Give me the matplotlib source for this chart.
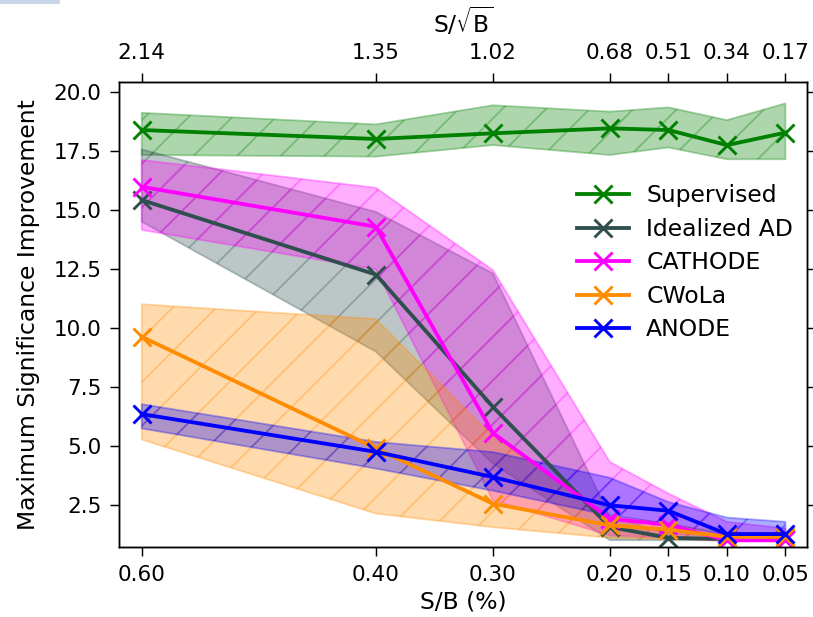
import matplotlib
matplotlib.use("Agg")
import matplotlib.pyplot as plt
from matplotlib.patches import Rectangle

# signal fraction scan
sb = [0.60, 0.40, 0.30, 0.20, 0.15, 0.10, 0.05]
s_sqrt_b = ["2.14", "1.35", "1.02", "0.68", "0.51", "0.34", "0.17"]

sup_mean = [18.40, 18.02, 18.26, 18.47, 18.40, 17.76, 18.29]
sup_hi = [19.13, 18.64, 19.45, 19.18, 19.36, 18.82, 19.53]
sup_lo = [17.34, 17.27, 17.76, 17.34, 17.66, 17.16, 17.16]

ideal_mean = [15.43, 12.27, 6.66, 1.56, 1.10, 1.05, 1.05]
ideal_hi = [17.58, 14.93, 12.32, 2.00, 1.30, 1.20, 1.20]
ideal_lo = [14.51, 9.00, 4.25, 1.00, 1.00, 1.00, 1.00]

cath_mean = [15.99, 14.30, 5.55, 1.91, 1.65, 1.00, 1.00]
cath_hi = [17.13, 15.95, 12.46, 4.32, 2.98, 1.78, 1.50]
cath_lo = [14.16, 12.49, 2.70, 1.20, 1.10, 0.95, 0.95]

cwola_mean = [9.63, 4.90, 2.55, 1.63, 1.45, 1.14, 1.14]
cwola_hi = [11.01, 10.38, 5.40, 2.00, 1.70, 1.30, 1.30]
cwola_lo = [5.27, 2.13, 1.55, 1.10, 1.05, 1.00, 1.00]

anode_mean = [6.35, 4.75, 3.68, 2.48, 2.25, 1.26, 1.26]
anode_hi = [6.77, 5.17, 4.74, 3.65, 2.62, 1.96, 1.78]
anode_lo = [5.74, 4.04, 3.10, 2.05, 1.70, 1.20, 1.20]

methods = [
    ("Supervised", "green", sup_mean, sup_lo, sup_hi),
    ("Idealized AD", "darkslategray", ideal_mean, ideal_lo, ideal_hi),
    ("CATHODE", "magenta", cath_mean, cath_lo, cath_hi),
    ("CWoLa", "darkorange", cwola_mean, cwola_lo, cwola_hi),
    ("ANODE", "blue", anode_mean, anode_lo, anode_hi),
]

dpi = 131
fig = plt.figure(figsize=(813 / dpi, 617 / dpi), dpi=dpi)
ax = fig.add_axes([0.1464, 0.1130, 0.8462, 0.7546])

for name, c, mean, lo, hi in methods:
    ax.plot(sb, mean, color=c, marker="x", lw=2.1, ms=10, mew=1.6, label=name)
    ax.fill_between(sb, lo, hi, color=c, alpha=0.32, hatch="/")

ax.set_xlim(0.6194, 0.0316)
ax.set_ylim(0.70, 20.45)
ax.set_xticks(sb)
ax.set_xticklabels([f"{v:.2f}" for v in sb])
ax.set_yticks([2.5, 5.0, 7.5, 10.0, 12.5, 15.0, 17.5, 20.0])
ax.tick_params(labelsize=11.8, length=5, pad=4.5)
ax.tick_params(axis="y", right=True)
ax.set_xlabel("S/B (%)", fontsize=12.9, labelpad=3)
ax.set_ylabel("Maximum Significance Improvement", fontsize=12.9, labelpad=7.5)

top = ax.twiny()
top.set_xlim(ax.get_xlim())
top.set_xticks(sb)
top.set_xticklabels(s_sqrt_b)
top.tick_params(labelsize=11.8, length=5, pad=5)
top.set_xlabel(r"S/$\sqrt{\mathrm{B}}$", fontsize=12.9, labelpad=6)

ax.legend(loc="upper left", bbox_to_anchor=(0.652, 0.80), frameon=False,
          fontsize=12.9, handlelength=2.2, handletextpad=0.75,
          labelspacing=0.45, borderaxespad=0)

fig.patches.append(Rectangle((0, 0.995), 0.072, 0.005, transform=fig.transFigure,
                             color="#c8d4e8", zorder=10))

fig.savefig("out.png", dpi=dpi)
